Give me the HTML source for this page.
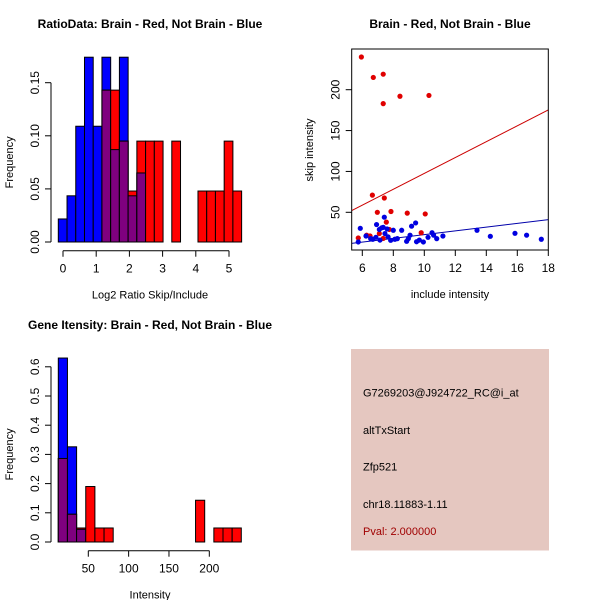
<!DOCTYPE html>
<html><head><meta charset="utf-8"><style>
body{margin:0;background:#fff}
svg{display:block;font-family:"Liberation Sans",sans-serif}
</style></head><body>
<svg id="c" width="600" height="600" xmlns="http://www.w3.org/2000/svg">
<rect width="600" height="600" fill="#fff"/>
</svg>
<script>
// Panel 1: ratio histogram
const ratioBlue=[0.0217,0.0435,0.109,0.174,0.109,0.174,0.087,0.174,0.0435,0.065,0,0,0,0,0,0,0,0,0,0,0];
const ratioRed=[0,0,0,0,0,0.143,0.143,0.095,0.048,0.095,0.095,0.095,0,0.095,0,0,0.048,0.048,0.048,0.095,0.048];
const ratioXTicks=[0,1,2,3,4,5];
const ratioYTicks=["0.00","0.05","0.10","0.15"];
// Panel 2: scatter
const redX=[5.94,6.71,7.35,7.35,8.43,10.3,6.65,7.42,6.97,7.85,8.9,10.06,7.55,5.74,6.28,6.5,7.74,9.8,7.35,7.1];
const redY=[240,215,219,183,192,193,71,67.5,50,51,49,48,38,18.6,22,21,29,25,18,24];
const blueX=[5.87,5.74,6.24,6.54,6.92,7.1,7.25,7.35,7.42,7.6,7.46,7.66,7.83,8.0,8.1,8.26,8.54,8.97,9.08,9.18,9.44,9.5,9.68,9.94,10.24,10.5,10.6,10.8,11.2,13.4,14.26,15.85,16.6,17.55,6.88,6.67,7.14,8.86];
const blueY=[30.4,13.7,21,17.8,35,29,31,31.6,44,29.6,24,20,15.7,28,17,17.8,28,17.8,22,33,37,14,16,13.7,19.4,25,22,17.8,21,28,20.6,24.3,22,17,19.4,17,16,14.5];
const redFit=[0.6,9.7];   // intercept, slope
const blueFit=[-0.1,2.28];
const scatXTicks=[6,8,10,12,14,16,18];
const scatYTicks=[50,100,150,200];
// Panel 3: intensity histogram
const intBlue=[0.63,0.326,0.0435,0,0,0,0,0,0,0,0,0,0,0,0,0,0,0,0,0];
const intRed=[0.286,0.095,0.048,0.19,0.048,0.048,0,0,0,0,0,0,0,0,0,0.143,0,0.048,0.048,0.048];
const intXTicks=[50,100,150,200];
const intYTicks=["0.0","0.1","0.2","0.3","0.4","0.5","0.6"];
const infoLines=["G7269203@J924722_RC@i_at","altTxStart","Zfp521","chr18.11883-1.11"];
const pvalText="Pval: 2.000000";

const svg=document.getElementById('c');
const NS="http://www.w3.org/2000/svg";
function mk(tag,attrs,parent){const e=document.createElementNS(NS,tag);for(const k in attrs)e.setAttribute(k,attrs[k]);(parent||svg).appendChild(e);return e;}
function txt(x,y,s,size,opts,parent){const e=mk('text',Object.assign({x:x,y:y,'font-size':size,'text-anchor':'middle',fill:'#000'},opts||{}),parent);e.textContent=s;return e;}

function hist(name,blue,red,x0,bw,sy,y0,yAxisX,xAxisY,xt,xs,yt,ytVals,title,xlab,ty){
  const g=mk('g',{});
  
  
  for(let i=0;i<blue.length;i++){
    const x=x0+i*bw, b=blue[i], r=red[i], m=Math.min(b,r);
    if(b>0){const e=mk('rect',{x:x,y:y0-b*sy,width:bw,height:b*sy,fill:'#0000ff',stroke:'#000','stroke-width':1},g);
      }
    const e2=mk('rect',{x:x,y:y0-r*sy,width:bw,height:r*sy,fill:'#ff0000',stroke:'#000','stroke-width':1},g);
    
    if(m>0){const e3=mk('rect',{x:x,y:y0-m*sy,width:bw,height:m*sy,fill:'#7f007f',stroke:'#000','stroke-width':1},g);
      }
  }
  // y axis
  const yp=ytVals.map(v=>y0-v*sy);
  mk('line',{x1:yAxisX,x2:yAxisX,y1:yp[0],y2:yp[yp.length-1],stroke:'#000'},g);
  yt.forEach((s,i)=>{mk('line',{x1:yAxisX-6,x2:yAxisX,y1:yp[i],y2:yp[i],stroke:'#000'},g);
    const t=txt(yAxisX-12,yp[i],s,12,{transform:`rotate(-90 ${yAxisX-12} ${yp[i]})`},g);
    });
  const xp=xt.map(xs);
  mk('line',{x1:xp[0],x2:xp[xp.length-1],y1:xAxisY,y2:xAxisY,stroke:'#000'},g);
  xt.forEach((v,i)=>{mk('line',{x1:xp[i],x2:xp[i],y1:xAxisY,y2:xAxisY+6,stroke:'#000'},g);
    const t=txt(xp[i],xAxisY+22,String(v),12,{},g);
    });
  const t1=txt(150,ty,title,12,{'font-weight':'bold'});
  
  const t2=txt(150,xAxisY+48,xlab,11);
  
  const fy=(yp[0]+yp[yp.length-1])/2;
  const t3=txt(13,fy,'Frequency',11,{transform:`rotate(-90 13 ${fy})`});
  
}
hist('ratio-histogram',ratioBlue,ratioRed,58.3,8.73,1062,242,51,250.7,ratioXTicks,v=>63+v*33.2,ratioYTicks,[0,0.05,0.1,0.15],'RatioData: Brain - Red, Not Brain - Blue','Log2 Ratio Skip/Include',28);
hist('intensity-histogram',intBlue,intRed,58.3,9.15,292,542,51,550.7,intXTicks,v=>88.3+(v-50)*0.8067,intYTicks,[0,0.1,0.2,0.3,0.4,0.5,0.6],'Gene Itensity: Brain - Red, Not Brain - Blue','Intensity',329);

// scatter
const sx=v=>362.3+(v-6)*15.5, sy=v=>212.3-(v-50)*0.8173;
const L=351.7,R=548.3,T=49,B=250;
const sg=mk('g',{});


const cp=mk('clipPath',{id:'cl'});mk('rect',{x:L,y:T,width:R-L,height:B-T},cp);
[[redFit,'#cc0000'],[blueFit,'#0000aa']].forEach(([f,c])=>{
  const xa=5.2,xb=18.2;
  const l=mk('line',{x1:sx(xa),y1:sy(f[0]+f[1]*xa),x2:sx(xb),y2:sy(f[0]+f[1]*xb),stroke:c,'stroke-width':1,'clip-path':'url(#cl)'},sg);
  
});
redX.forEach((x,i)=>{const p=mk('circle',{cx:sx(x),cy:sy(redY[i]),r:2.6,fill:'#e00000'},sg);
  });
blueX.forEach((x,i)=>{const p=mk('circle',{cx:sx(x),cy:sy(blueY[i]),r:2.6,fill:'#0000e0'},sg);
  });
mk('rect',{x:L,y:T,width:R-L,height:B-T,fill:'none',stroke:'#000'},sg);
scatXTicks.forEach(v=>{mk('line',{x1:sx(v),x2:sx(v),y1:B,y2:B+6,stroke:'#000'},sg);
  const t=txt(sx(v),B+22,String(v),12,{},sg);});
scatYTicks.forEach(v=>{mk('line',{x1:L-6,x2:L,y1:sy(v),y2:sy(v),stroke:'#000'},sg);
  const t=txt(L-12,sy(v),String(v),12,{transform:`rotate(-90 ${L-12} ${sy(v)})`},sg);});
const st=txt(450,28,'Brain - Red, Not Brain - Blue',12,{'font-weight':'bold'});

const sxl=txt(450,298,'include intensity',11);

const syl=txt(313,150,'skip intensity',11,{transform:'rotate(-90 313 150)'});


// info panel
const ip=mk('g',{});


mk('rect',{x:351,y:349,width:198,height:201.5,fill:'#e5c7c0'},ip);
const ys=[396.7,434,470.7,508];
infoLines.forEach((s,i)=>{const t=txt(363,ys[i],s,11,{'text-anchor':'start'},ip);
  });
const pv=txt(363,535,pvalText,11,{'text-anchor':'start',fill:'#a00000'},ip);

</script>
</body></html>
